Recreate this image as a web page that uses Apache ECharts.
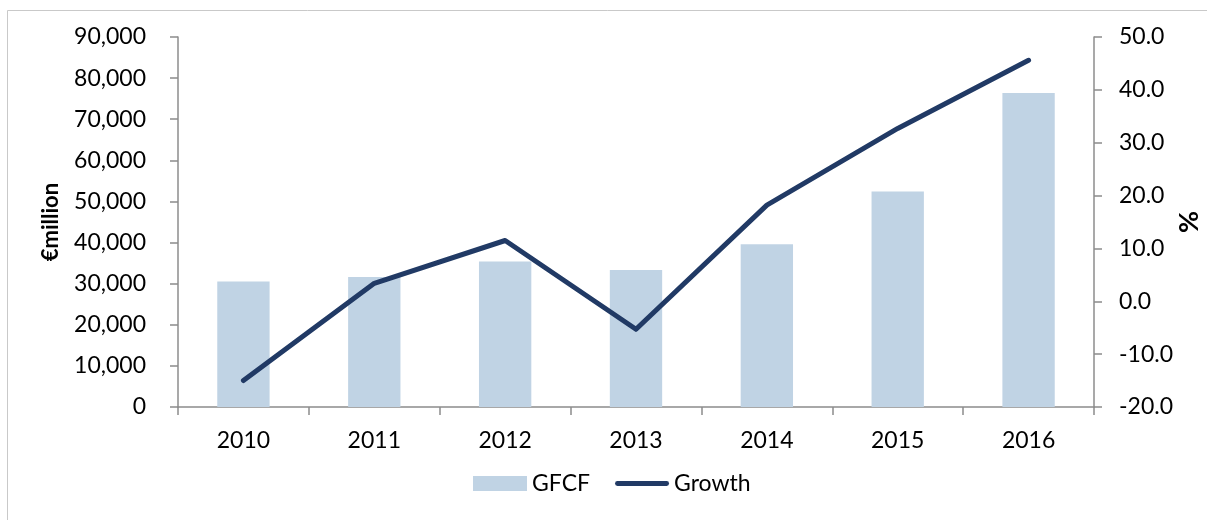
<!DOCTYPE html>
<html>
<head>
<meta charset="utf-8">
<script src="https://cdn.jsdelivr.net/npm/echarts@6/dist/echarts.min.js"></script>
<style>
  html, body { margin: 0; padding: 0; background: #fff; }
  #chart { width: 1207px; height: 520px; }
</style>
</head>
<body>
<div id="chart"></div>
<script>
// Gross fixed capital formation (€million) and its annual growth (%)
const years = ['2010', '2011', '2012', '2013', '2014', '2015', '2016'];
const gfcf = [30500, 31600, 35400, 33300, 39600, 52400, 76400];
const growth = [-15.0, 3.4, 11.5, -5.3, 18.2, 32.7, 45.6];

const FONT = 'Lato, "Open Sans", sans-serif';
const AXIS_GREY = '#8c8c8c';
const BAR_COLOR = '#c0d3e4';
const LINE_COLOR = '#213a65';

// thick round-capped stroke used as the legend icon of the growth line
const LINE_ICON = 'path://M2.5,0 L53.5,0 A2.5,2.5 0 0 1 53.5,5 L2.5,5 A2.5,2.5 0 0 1 2.5,0 Z';

const chart = echarts.init(document.getElementById('chart'), null, { renderer: 'canvas' });

chart.setOption({
  animation: false,
  backgroundColor: '#ffffff',
  textStyle: { fontFamily: FONT, color: '#000' },
  graphic: [{
    type: 'rect',
    shape: { x: 7.5, y: 10.5, width: 1400, height: 700 },
    style: { fill: 'none', stroke: '#c9c9c9', lineWidth: 1 },
    silent: true,
    z: -10
  }],
  grid: { left: 178, right: 113, top: 37, bottom: 113, containLabel: false, outerBoundsMode: 'none' },
  legend: {
    bottom: 25,
    left: 473,
    padding: 0,
    itemWidth: 54,
    itemHeight: 15,
    itemGap: 25,
    textStyle: { fontFamily: FONT, fontSize: 23, color: '#000' },
    data: [
      { name: 'GFCF', icon: 'rect', itemStyle: { color: BAR_COLOR } },
      { name: 'Growth', icon: LINE_ICON, itemStyle: { color: LINE_COLOR } }
    ]
  },
  xAxis: {
    type: 'category',
    data: years,
    boundaryGap: true,
    axisLine: { lineStyle: { color: AXIS_GREY, width: 1.5 } },
    axisTick: { show: true, length: 8, alignWithLabel: false, lineStyle: { color: AXIS_GREY, width: 1.5 } },
    axisLabel: { fontFamily: FONT, fontSize: 23, color: '#000', margin: 22 },
    splitLine: { show: false }
  },
  yAxis: [
    {
      type: 'value',
      min: 0,
      max: 90000,
      interval: 10000,
      name: '€million',
      nameLocation: 'middle',
      nameGap: 116,
      nameRotate: 90,
      nameMoveOverlap: false,
      nameTextStyle: { fontFamily: FONT, fontSize: 22, fontWeight: 'bold', color: '#000' },
      axisLine: { show: true, lineStyle: { color: AXIS_GREY, width: 1.5 } },
      axisTick: { show: true, length: 8, lineStyle: { color: AXIS_GREY, width: 1.5 } },
      axisLabel: {
        fontFamily: FONT, fontSize: 23, color: '#000', margin: 32,
        formatter: v => v.toLocaleString('en-US')
      },
      splitLine: { show: false }
    },
    {
      type: 'value',
      min: -20,
      max: 50,
      interval: 10,
      position: 'right',
      name: '%',
      nameLocation: 'middle',
      nameGap: 82,
      nameRotate: 90,
      nameMoveOverlap: false,
      nameTextStyle: { fontFamily: FONT, fontSize: 27, fontWeight: 'bold', color: '#000' },
      axisLine: { show: true, lineStyle: { color: AXIS_GREY, width: 1.5 } },
      axisTick: { show: true, length: 8, lineStyle: { color: AXIS_GREY, width: 1.5 } },
      axisLabel: {
        fontFamily: FONT, fontSize: 23, color: '#000', margin: 25,
        formatter: v => v.toFixed(1)
      },
      splitLine: { show: false }
    }
  ],
  series: [
    {
      name: 'GFCF',
      type: 'bar',
      yAxisIndex: 0,
      data: gfcf,
      barWidth: '40%',
      itemStyle: { color: BAR_COLOR }
    },
    {
      name: 'Growth',
      type: 'line',
      yAxisIndex: 1,
      data: growth,
      symbol: 'none',
      lineStyle: { color: LINE_COLOR, width: 5, cap: 'round', join: 'round' },
      itemStyle: { color: LINE_COLOR },
      z: 5
    }
  ]
});
</script>
</body>
</html>
